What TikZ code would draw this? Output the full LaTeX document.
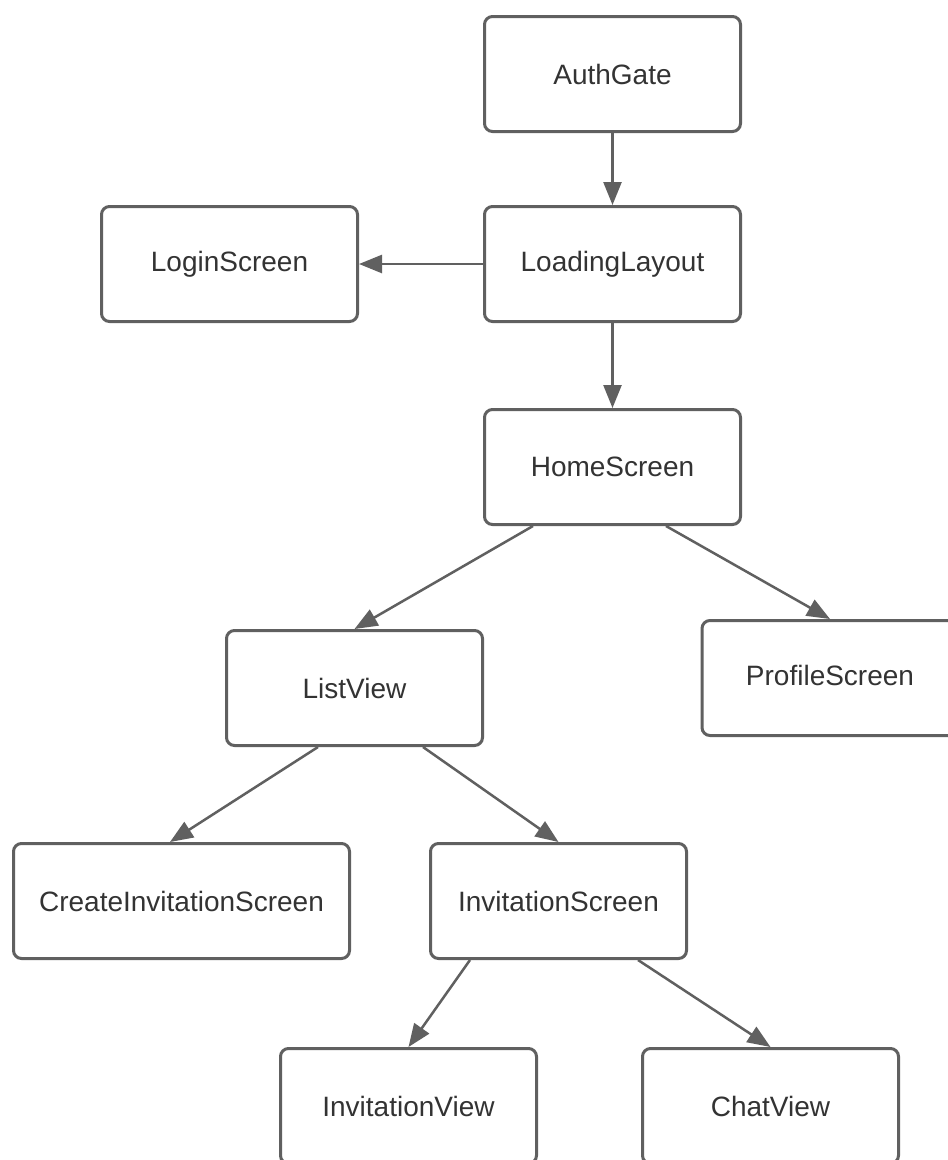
\documentclass[tikz,border=0pt]{standalone}
\usepackage{fontspec}
\setmainfont{Liberation Sans}
\usetikzlibrary{arrows.meta,calc}
\definecolor{edgegray}{HTML}{606060}
\definecolor{txtgray}{HTML}{333333}
\tikzset{
  box/.style={draw=edgegray, line width=3pt, rounded corners=8pt, fill=white,
    minimum width=256pt, minimum height=115pt, inner sep=0pt,
    text=txtgray, font=\fontsize{28}{33}\selectfont},
  arr/.style={draw=edgegray, line width=2.5pt, -{Triangle[length=23pt,width=18pt]}}
}
\begin{document}
\begin{tikzpicture}[x=1pt,y=-1pt]
\useasboundingbox (0,0) rectangle (948,1160);
\clip (0,0) rectangle (948,1160);
\fill[white] (0,0) rectangle (948,1160);
\node[box] (auth) at (612.5,74) {AuthGate};
\node[box] (loading) at (612.5,264) {LoadingLayout};
\node[box] (login) at (229.5,264) {LoginScreen};
\node[box] (home) at (612.5,467) {HomeScreen};
\node[box] (list) at (354.5,688) {ListView};
\node[box, label={[yshift=3pt,text=txtgray,font=\fontsize{28}{33}\selectfont]center:ProfileScreen}] (profile) at (830,678) {};
\node[box, minimum width=336pt] (create) at (181.5,901) {CreateInvitationScreen};
\node[box] (invs) at (558.5,901) {InvitationScreen};
\node[box] (invview) at (408.5,1106) {InvitationView};
\node[box] (chat) at (770.5,1106) {ChatView};
\draw[arr] (auth.south) -- (loading.north);
\draw[arr] (loading.west) -- (login.east);
\draw[arr] (loading.south) -- (home.north);
\draw[arr] ($(home.south west)+(50,0)$) -- (list.north);
\draw[arr] ($(home.south east)+(-76,0)$) -- (profile.north);
\draw[arr] ($(list.south west)+(93,0)$) -- ($(create.north west)+(158,0)$);
\draw[arr] ($(list.south east)+(-61,0)$) -- (invs.north);
\draw[arr] ($(invs.south west)+(41,0)$) -- (invview.north);
\draw[arr] ($(invs.south east)+(-50,0)$) -- (chat.north);
\end{tikzpicture}
\end{document}
